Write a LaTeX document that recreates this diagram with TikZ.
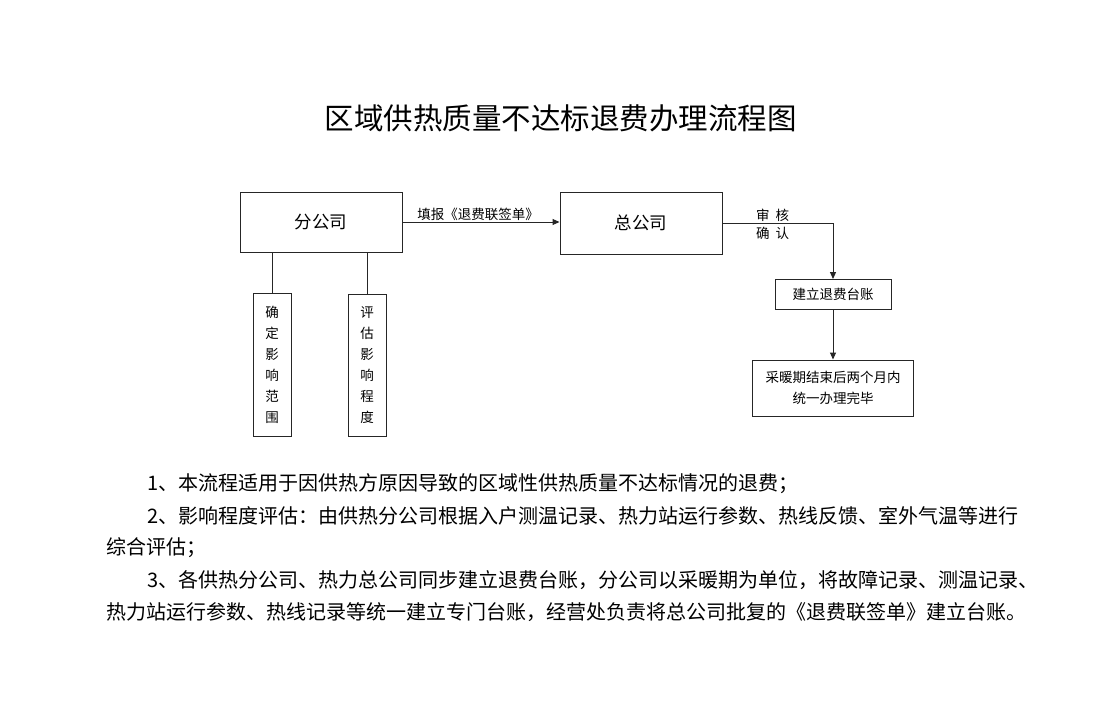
\documentclass[tikz,border=0pt]{standalone}
\usepackage{fontspec}
\setmainfont{Noto Sans CJK SC}
\usetikzlibrary{arrows.meta}
\tikzset{
  box/.style={draw=black!85, line width=1pt, rectangle, inner sep=0pt, align=center},
  conn/.style={draw=black!85, line width=1pt},
  arr/.style={conn, -{Triangle[length=7pt,width=6pt]}},
  lbl/.style={inner sep=0pt, font=\fontsize{13.5}{18}\selectfont},
  body/.style={anchor=west, inner sep=0pt, font=\fontsize{20}{32}\selectfont}
}
\begin{document}
\begin{tikzpicture}[x=1pt,y=-1pt]
\useasboundingbox (0,0) rectangle (1097,721);
\fill[white] (0,0) rectangle (1097,721);
\node[inner sep=0pt, font=\fontsize{29.5}{34}\selectfont] (title) at (560.5,118) {区域供热质量不达标退费办理流程图};

\node[box, minimum width=162pt, minimum height=60pt, font=\fontsize{17.5}{20}\selectfont] (fgs) at (321,222) {分公司};
\node[box, minimum width=162pt, minimum height=62pt, font=\fontsize{17.5}{20}\selectfont] (zgs) at (641,223) {总公司};
\node[box, minimum width=116pt, minimum height=30pt, font=\fontsize{13.5}{18}\selectfont] (tz) at (833,294.5) {建立退费台账};
\node[box, minimum width=161pt, minimum height=56pt, font=\fontsize{13.5}{21}\selectfont] (wb) at (833,388) {采暖期结束后两个月内\\统一办理完毕};
\node[box, minimum width=38pt, minimum height=143pt, font=\fontsize{13.5}{21}\selectfont] (fw) at (272,364.5) {确\\定\\影\\响\\范\\围};
\node[box, minimum width=38pt, minimum height=142pt, font=\fontsize{13.5}{21}\selectfont] (cd) at (367,365) {评\\估\\影\\响\\程\\度};

\draw[arr] (fgs.east) -- (zgs.west |- fgs.east);
\node[lbl] (l1) at (478,214) {填报《退费联签单》};
\draw[arr] (zgs.east) -| (tz.north);
\node[lbl, align=left, anchor=west] (l2) at (756,224) {审\hspace{6pt}核\\确\hspace{6pt}认};
\draw[arr] (tz.south) -- (wb.north);
\draw[conn] (fw.north) -- (fw.north |- fgs.south);
\draw[conn] (cd.north) -- (cd.north |- fgs.south);

\node[body] (t1) at (147,484) {1、本流程适用于因供热方原因导致的区域性供热质量不达标情况的退费；};
\node[body] (t2) at (147,516) {2、影响程度评估：由供热分公司根据入户测温记录、热力站运行参数、热线反馈、室外气温等进行};
\node[body] (t3) at (106,548) {综合评估；};
\node[body] (t4) at (147,580) {3、各供热分公司、热力总公司同步建立退费台账，分公司以采暖期为单位，将故障记录、测温记录、};
\node[body] (t5) at (106,612) {热力站运行参数、热线记录等统一建立专门台账，经营处负责将总公司批复的《退费联签单》建立台账。};
\end{tikzpicture}
\end{document}
